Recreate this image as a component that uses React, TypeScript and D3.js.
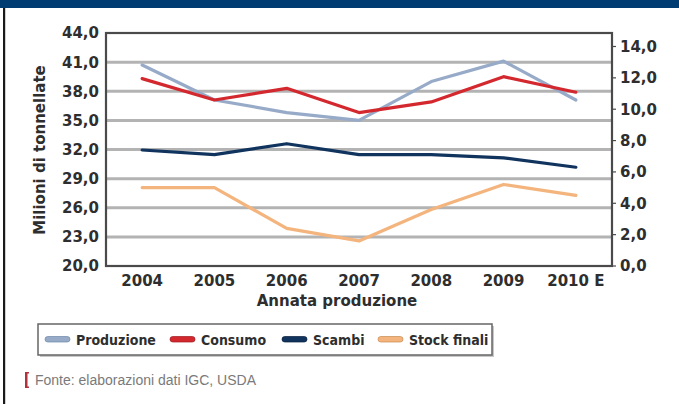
import React from "react";
import * as d3 from "d3";

const years = ["2004", "2005", "2006", "2007", "2008", "2009", "2010 E"];
const produzione = [40.7, 37.1, 35.8, 35.0, 39.0, 41.1, 37.1];
const consumo = [39.3, 37.1, 38.3, 35.8, 36.9, 39.5, 37.9];
const scambi = [7.4, 7.1, 7.8, 7.1, 7.1, 6.9, 6.3];
const stockFinali = [5.0, 5.0, 2.4, 1.6, 3.6, 5.2, 4.5];
const leftTicks = [20, 23, 26, 29, 32, 35, 38, 41, 44];
const rightTicks = [0, 2, 4, 6, 8, 10, 12, 14];
const legendLabels = ["Produzione", "Consumo", "Scambi", "Stock finali"];

const colors = ["#97abc9", "#d4282f", "#10345e", "#f4b47d"];
const strokes = ["#6f86a6", "#a01a20", "#061c38", "#c98a52"];

const W = 679;
const H = 404;
const L = 106, R = 612, T = 33, B = 266;

const fmt = (v: number) => v.toFixed(1).replace(".", ",");

export default function App() {
  const x = d3.scaleBand<string>().domain(years).range([L, R]);
  const yL = d3.scaleLinear().domain([20, 44]).range([B, T]);
  const yR = d3.scaleLinear().domain([0, 14]).range([B, 46.5]);
  const cx = (d: string) => (x(d) as number) + x.bandwidth() / 2;

  const lineL = d3.line<number>().x((_, i) => cx(years[i])).y((v) => yL(v));
  const lineR = d3.line<number>().x((_, i) => cx(years[i])).y((v) => yR(v));

  const series = [
    { d: lineL(produzione), c: colors[0] },
    { d: lineL(consumo), c: colors[1] },
    { d: lineR(scambi), c: colors[2] },
    { d: lineR(stockFinali), c: colors[3] },
  ];

  const tickFont = { fontFamily: "DejaVu Sans", fontWeight: "bold" as const, fontSize: 15, fill: "#2e2e2e" };
  const legendX = [45, 170, 282, 378];

  return (
    <svg width={W} height={H} style={{ position: "absolute", left: 0, top: 0, background: "#fff" }}>
      <rect x={0} y={0} width={W} height={8} fill="#003b71" />
      <rect x={3} y={8} width={2.2} height={H - 8} fill="#1a1a1a" />

      {leftTicks.slice(1, -1).map((t) => (
        <line key={t} x1={L} x2={R} y1={yL(t)} y2={yL(t)} stroke="#b3b3b3" strokeWidth={3} />
      ))}

      {series.map((s, i) => (
        <path key={i} d={s.d || ""} fill="none" stroke={s.c} strokeWidth={3.2} strokeLinejoin="round" strokeLinecap="round" />
      ))}

      <rect x={L} y={T} width={R - L} height={B - T} fill="none" stroke="#4a4a4a" strokeWidth={2.2} />

      {leftTicks.map((t) => (
        <text key={t} x={99} y={yL(t)} dy="0.36em" textAnchor="end" {...tickFont}>{fmt(t)}</text>
      ))}
      {rightTicks.map((t) => (
        <g key={t}>
          <line x1={R} x2={R + 4} y1={yR(t)} y2={yR(t)} stroke="#4a4a4a" strokeWidth={1.2} />
          <text x={620} y={yR(t)} dy="0.36em" textAnchor="start" {...tickFont}>{fmt(t)}</text>
        </g>
      ))}
      {years.map((y) => (
        <text key={y} x={cx(y)} y={286} textAnchor="middle" {...tickFont}>{y}</text>
      ))}

      <text x={337} y={306} textAnchor="middle" {...tickFont}>Annata produzione</text>
      <text transform={`translate(45,150) rotate(-90)`} textAnchor="middle" {...tickFont}>Milioni di tonnellate</text>

      <rect x={40} y={326} width={454} height={31} fill="#c8c8c8" />
      <rect x={38} y={324} width={454} height={31} fill="#fff" stroke="#666" strokeWidth={1.5} />
      {legendLabels.map((lab, i) => (
        <g key={lab}>
          <rect x={legendX[i]} y={336.5} width={25} height={5.5} rx={2.75} fill={colors[i]} stroke={strokes[i]} strokeWidth={0.7} />
          <text x={legendX[i] + 31} y={344.5} fontFamily="DejaVu Sans Condensed" fontWeight="bold" fontSize={14} fill="#2e2e2e">{lab}</text>
        </g>
      ))}

      <rect x={25} y={372} width={2.5} height={16} fill="#b2323c" />
      <rect x={25} y={372} width={4} height={1.5} fill="#b2323c" />
      <rect x={25} y={386.5} width={4} height={1.5} fill="#b2323c" />
      <text x={35} y={385} fontFamily="Liberation Sans" fontSize={14} fill="#7a7a7a">Fonte: elaborazioni dati IGC, USDA</text>
    </svg>
  );
}
